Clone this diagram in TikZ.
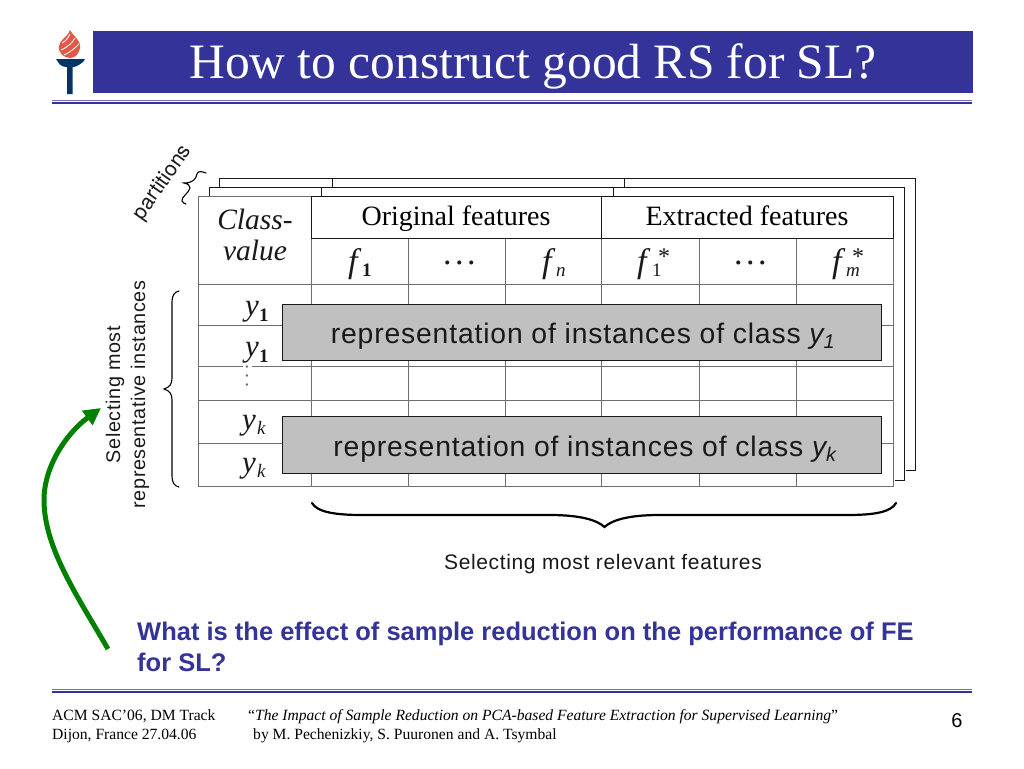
\documentclass[tikz,border=0pt]{standalone}
\usepackage{fontspec}
\setmainfont{Liberation Sans}
\newfontfamily\serifx{Liberation Serif}
\newfontfamily\sansls[LetterSpace=3]{Liberation Sans}
\newfontfamily\heros{TeX Gyre Heros}
\usetikzlibrary{arrows.meta}
\definecolor{navy}{RGB}{51,51,153}
\definecolor{torch}{RGB}{0,51,102}
\definecolor{flame}{RGB}{222,90,70}
\definecolor{gridc}{RGB}{110,110,110}
\definecolor{greyb}{RGB}{192,192,192}
\definecolor{grn}{RGB}{0,128,0}
\definecolor{inkx}{RGB}{25,25,25}
\newcommand\bigf{{\serifx\itshape\fontsize{34}{34}\selectfont f}}
\newcommand\bigy{{\serifx\itshape\fontsize{31}{31}\selectfont y}}
\newcommand\subn[1]{{\serifx\fontsize{19}{19}\selectfont #1}}
\newcommand\subi[1]{{\serifx\itshape\fontsize{19}{19}\selectfont #1}}
\newcommand\tstar{{\serifx\fontsize{24}{24}\selectfont *}}
\tikzset{
 gridl/.style={draw=gridc,line width=0.9pt},
 blackl/.style={draw=inkx,line width=1pt},
 sheet/.style={draw=inkx,line width=1pt},
 repbox/.style={draw=inkx,fill=greyb,line width=1.1pt,anchor=north west,minimum width=599pt,minimum height=56.5pt,inner sep=0pt},
 reptext/.style={font=\sansls\fontsize{28.3}{28.3}\selectfont,inner sep=0pt,anchor=base,text=inkx},
 headt/.style={font=\serifx\fontsize{28}{28}\selectfont,inner sep=0pt,anchor=base},
 symb/.style={inner sep=0pt,anchor=base west,text=inkx},
 bold1/.style={font=\serifx\bfseries\fontsize{19}{19}\selectfont},
 dotsx/.style={font=\serifx\fontsize{34}{34}\selectfont},
 foot/.style={font=\serifx\fontsize{15.6}{15.6}\selectfont,anchor=base west,inner sep=0pt},
 sidet/.style={font=\sansls\fontsize{19.8}{25}\selectfont,inner sep=0pt,text=inkx},
 brc/.style={draw=black,line width=1.1pt,line cap=round},
 bluet/.style={text=navy,font=\bfseries\fontsize{25.5}{25.5}\selectfont,anchor=base west,inner sep=0pt}
}
\begin{document}
\begin{tikzpicture}[x=1pt,y=-1pt]
\useasboundingbox (0,0) rectangle (1024,768);
% title
\fill[navy] (93,31) rectangle (973,93);
\node[text=white,inner sep=0pt,anchor=base,font=\serifx\fontsize{49.5}{49.5}\selectfont] (title) at (533,78) {How to construct good RS for SL?};
\draw[navy!70,line width=1pt] (52,100)--(972,100);
\draw[navy,line width=1.7pt] (52,103)--(972,103);
\draw[navy!70,line width=1pt] (52,689)--(972,689);
\draw[navy,line width=1.7pt] (52,692)--(972,692);
% torch
\fill[torch] (56,59) -- (85,59) -- (83,62) .. controls (78,66) and (75,67) .. (72.5,67) -- (72.5,94) -- (67,94) -- (67,67) .. controls (64,67) and (60,66) .. (58,62) -- cycle;
\fill[flame] (70,30) .. controls (74,37) and (81,40) .. (80,48) .. controls (79,54) and (75,58) .. (70,58) .. controls (64,58) and (58,53) .. (59,46) .. controls (60,39) and (67,38) .. (70,30) -- cycle;
\draw[white,line width=0.9pt] (62,43) .. controls (66,41) and (68,38) .. (70,34) (61,50) .. controls (68,47) and (73,42) .. (75,38) (64,55) .. controls (71,52) and (76,47) .. (79,44);
% back sheets
\draw[sheet] (219.5,187) -- (219.5,178.5) -- (915.5,178.5) -- (915.5,470.5) -- (906,470.5);
\draw[sheet] (332.5,178) -- (332.5,187) (624.5,178) -- (624.5,187);
\draw[sheet] (209.5,196) -- (209.5,187.5) -- (904.5,187.5) -- (904.5,480.5) -- (895,480.5);
\draw[sheet] (321.5,187.5) -- (321.5,196) (613.5,187.5) -- (613.5,196);
% table
\fill[white] (198,196) rectangle (893,486);
\draw[gridl] (311,238) -- (311,486) (408,238) -- (408,486) (505,238) -- (505,486) (601,238) -- (601,486) (699,238) -- (699,486) (796,238) -- (796,486);
\draw[gridl] (198,284) -- (893,284) (198,366) -- (893,366) (198,400) -- (893,400);
\draw[gridl] (198,325) -- (893,325) (198,443) -- (893,443);
\draw[gridl] (198,196) rectangle (893,486);
\draw[blackl] (311.5,196.5) -- (893.5,196.5) -- (893.5,238.5) -- (311.5,238.5) -- cycle;
\draw[blackl] (601.5,196.5) -- (601.5,238.5);
\node[headt] (orig) at (456,225) {Original features};
\node[headt] (extr) at (747,225) {Extracted features};
\node[font=\serifx\itshape\fontsize{29.5}{31}\selectfont,inner sep=0pt,anchor=base,text=inkx] (cls1) at (255,229) {Class-};
\node[font=\serifx\itshape\fontsize{29.5}{31}\selectfont,inner sep=0pt,anchor=base,text=inkx] (cls2) at (255,260) {value};
% feature symbols
\node[symb] (h1) at (348,272) {\bigf};
\node[symb,bold1] (h1s) at (362,276) {1};
\node[symb,dotsx] (hd1) at (443,264) {.\kern3.5pt.\kern3.5pt.};
\node[symb] (hn) at (542,272) {\bigf};
\node[symb] (hns) at (556,276) {\subi{n}};
\node[symb] (e1) at (637,272) {\bigf};
\node[symb] (e1s) at (652,276) {\subn{1}};
\node[symb] (e1t) at (658,264) {\tstar};
\node[symb,dotsx] (hd2) at (734,264) {.\kern3.5pt.\kern3.5pt.};
\node[symb] (em) at (832,272) {\bigf};
\node[symb] (ems) at (846,276) {\subi{m}};
\node[symb] (emt) at (852,264) {\tstar};
% class symbols
\node[symb] (r1) at (245,315) {\bigy};
\node[symb,bold1] (r1s) at (259,321) {1};
\node[symb] (r2) at (245,356) {\bigy};
\node[symb,bold1] (r2s) at (259,362) {1};
\fill[white] (243,364.5) rectangle (252,367.5);
\node[symb,text=gridc,rotate=-90,anchor=center,font=\serifx\fontsize{20}{20}\selectfont] (rd) at (247,376) {.\kern4pt.\kern4pt.};
\node[symb] (r3) at (242,429) {\bigy};
\node[symb] (r3s) at (257,434) {\subi{k}};
\node[symb] (r4) at (242,472) {\bigy};
\node[symb] (r4s) at (257,477) {\subi{k}};
% grey bars
\node[repbox] (bar1) at (282,303.5) {};
\node[reptext] (bar1t) at (583,343.5) {representation of instances of class {\itshape y\textsubscript{1}}};
\node[repbox] (bar2) at (282,416) {};
\node[reptext] (bar2t) at (585,456) {representation of instances of class {\itshape y\textsubscript{k}}};
% braces
\draw[brc] (206,173) .. controls (201,171) and (198,171) .. (197,174) .. controls (196,179) and (193,183) .. (184,183) .. controls (188,184) and (190,185) .. (190,188) .. controls (189,193) and (181,197) .. (182,201) .. controls (183,203) and (185,204) .. (186,204);
\node[rotate=55,anchor=center,inner sep=0pt,text=inkx,font=\heros\fontsize{21}{21}\selectfont] (part) at (163,183) {partitions};
\draw[brc] (179,291) .. controls (174,292) and (172,296) .. (172,302) -- (172,378) .. controls (172,384) and (170,387) .. (164,389) .. controls (170,391) and (172,394) .. (172,400) -- (172,476) .. controls (172,482) and (174,486) .. (179,487);
\node[sidet,rotate=90,anchor=center,align=center] (sel) at (127.5,394.5) {Selecting most\\representative instances};
\draw[black,line width=2.2pt,line cap=round] (312,503) .. controls (317,512) and (335,515) .. (362,515) -- (550,515) .. controls (580,515) and (597,520) .. (604.5,527) .. controls (612,520) and (629,515) .. (659,515) -- (847,515) .. controls (875,515) and (891,512) .. (896,503);
\node[anchor=base,inner sep=0pt,text=inkx,font=\sansls\fontsize{21}{21}\selectfont] (rel) at (603,569) {Selecting most relevant features};
% green arrow
\coordinate (gs) at (108,649);
\coordinate (ge) at (101,408);
\draw[grn,line width=5pt,-{Triangle[length=17pt,width=17pt]}] (gs) .. controls (78,597) and (44,548) .. (44,500) .. controls (44,465) and (68,432) .. (ge);
% question
\node[bluet] (q1) at (137,640) {What is the effect of sample reduction on the performance of FE};
\node[bluet] (q2) at (137,671) {for SL?};
% footer
\node[foot] (f1) at (52,720) {ACM SAC’06, DM Track};
\node[foot] (f2) at (52,739) {Dijon, France 27.04.06};
\node[foot] (f3) at (248,720) {“{\itshape The Impact of Sample Reduction on PCA-based Feature Extraction for Supervised Learning}”};
\node[foot] (f4) at (253,739) {by M. Pechenizkiy, S. Puuronen and A. Tsymbal};
\node[inner sep=0pt,anchor=base,font=\fontsize{20}{20}\selectfont] (pg) at (957,727) {6};
\end{tikzpicture}
\end{document}
